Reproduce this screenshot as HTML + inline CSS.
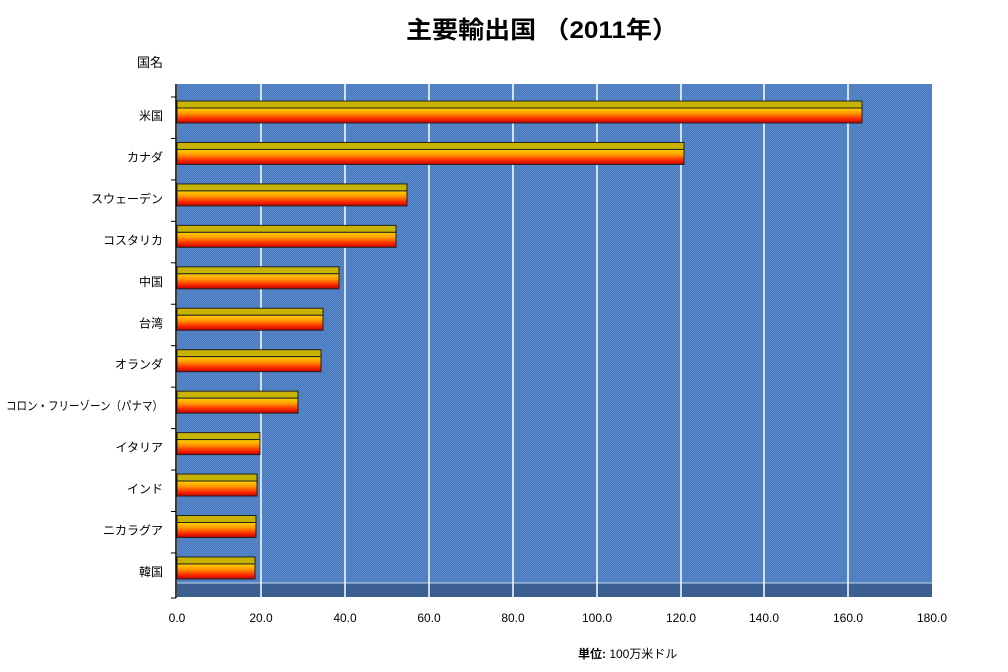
<!DOCTYPE html>
<html><head><meta charset="utf-8"><style>
html,body{margin:0;padding:0;background:#fff;}
svg{display:block;}
text{font-family:"Liberation Sans","Noto Sans CJK JP",sans-serif;}
</style></head><body>
<svg width="1008" height="672" viewBox="0 0 1008 672" xmlns="http://www.w3.org/2000/svg">
<defs>
<linearGradient id="g" x1="0" y1="0" x2="0" y2="1">
<stop offset="0" stop-color="#ffd000"/>
<stop offset="0.35" stop-color="#ff9a00"/>
<stop offset="0.7" stop-color="#ff3000"/>
<stop offset="1" stop-color="#c00000"/>
</linearGradient>
<pattern id="p" width="2" height="2" patternUnits="userSpaceOnUse">
<rect width="2" height="2" fill="#4878b8"/>
<rect width="1" height="1" fill="#5a8ad0"/>
<rect x="1" y="1" width="1" height="1" fill="#5a8ad0"/>
</pattern>
</defs>
<text x="542" y="38" font-size="24" font-weight="bold" text-anchor="middle" textLength="272" lengthAdjust="spacingAndGlyphs">主要輸出国 （2011年）</text>
<text x="137" y="67" font-size="13">国名</text>
<rect x="177" y="84" width="755" height="500" fill="url(#p)"/>
<rect x="177" y="583" width="755" height="14" fill="#3a5f90"/>
<line x1="177" y1="583" x2="932" y2="583" stroke="#c8d8f0" stroke-width="1"/>
<g stroke="#ffffff" stroke-width="1.5">
<line x1="261" y1="84" x2="261" y2="597"/><line x1="345" y1="84" x2="345" y2="597"/>
<line x1="429" y1="84" x2="429" y2="597"/><line x1="513" y1="84" x2="513" y2="597"/>
<line x1="597" y1="84" x2="597" y2="597"/><line x1="681" y1="84" x2="681" y2="597"/>
<line x1="764" y1="84" x2="764" y2="597"/><line x1="848" y1="84" x2="848" y2="597"/>
</g>
<line x1="176" y1="84" x2="176" y2="598" stroke="#000" stroke-width="1.5"/>
<g id="bars" font-size="12" text-anchor="end"></g>
<g font-size="12" text-anchor="middle">
<text x="177" y="622">0.0</text><text x="261" y="622">20.0</text><text x="345" y="622">40.0</text>
<text x="429" y="622">60.0</text><text x="513" y="622">80.0</text><text x="597" y="622">100.0</text>
<text x="681" y="622">120.0</text><text x="764" y="622">140.0</text><text x="848" y="622">160.0</text>
<text x="932" y="622">180.0</text>
</g>
<text x="578" y="658" font-size="12"><tspan font-weight="bold">単位:</tspan> 100万米ドル</text>
</svg>
<script>
var names=["米国","カナダ","スウェーデン","コスタリカ","中国","台湾","オランダ","コロン・フリーゾーン（パナマ）","イタリア","インド","ニカラグア","韓国"];
var ends=[862,684,407,396,339,323,321,298,260,257,256,255];
var g=document.getElementById("bars"),s="";
for(var i=0;i<12;i++){var c=116+i*41.45;
s+='<line x1="171" y1="'+(c-19)+'" x2="176" y2="'+(c-19)+'" stroke="#000"/>';
s+='<rect x="177" y="'+(c-15)+'" width="'+(ends[i]-177)+'" height="7" fill="#c8b400" stroke="#222" stroke-width="1"/>';
s+='<rect x="177" y="'+(c-8)+'" width="'+(ends[i]-177)+'" height="15" fill="url(#g)" stroke="#222" stroke-width="1"/>';
var tl=(i==7)?' textLength="157" lengthAdjust="spacingAndGlyphs"':'';
s+='<text x="163" y="'+(c+4)+'"'+tl+'>'+names[i]+'</text>';}
s+='<line x1="171" y1="598" x2="176" y2="598" stroke="#000"/>';
g.innerHTML=s;
</script>
</body></html>
